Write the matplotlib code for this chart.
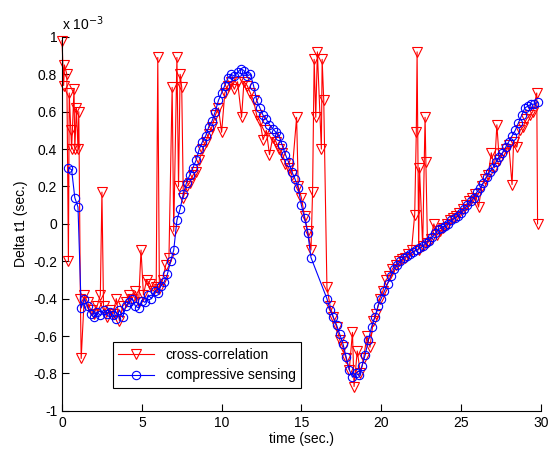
import matplotlib.pyplot as plt

plt.rcParams['font.family'] = ['Liberation Sans', 'DejaVu Sans']

# compressive sensing estimate (units of 1e-3 s)
t_cs = [0.4, 0.6, 0.8, 1.0, 1.2, 1.4, 1.6, 1.8, 2.0, 2.2, 2.4, 2.6, 2.8, 3.0, 3.2, 3.4, 3.6, 3.8,
        4.0, 4.2, 4.4, 4.6, 4.8, 5.0, 5.2, 5.4, 5.6, 5.8, 6.0, 6.2, 6.4, 6.6, 6.8, 7.0, 7.2, 7.4,
        7.6, 7.8, 8.0, 8.2, 8.4, 8.6, 8.8, 9.0, 9.2, 9.4, 9.6, 9.8, 10.0, 10.2, 10.4, 10.6, 10.8,
        11.0, 11.2, 11.4, 11.6, 11.8, 12.0, 12.2, 12.4, 12.6, 12.8, 13.0, 13.2, 13.4, 13.6, 13.8,
        14.0, 14.2, 14.4, 14.6, 14.8, 15.0, 15.2, 15.4, 15.6, 16.6, 16.8, 17.0, 17.2, 17.4, 17.6,
        17.8, 18.0, 18.2, 18.4, 18.6, 18.8, 19.0, 19.2, 19.4, 19.6, 19.8, 20.0, 20.2, 20.4, 20.6,
        20.8, 21.0, 21.2, 21.4, 21.6, 21.8, 22.0, 22.2, 22.4, 22.6, 22.8, 23.0, 23.2, 23.4, 23.6,
        23.8, 24.0, 24.2, 24.4, 24.6, 24.8, 25.0, 25.2, 25.4, 25.6, 25.8, 26.0, 26.2, 26.4, 26.6,
        26.8, 27.0, 27.2, 27.4, 27.6, 27.8, 28.0, 28.2, 28.4, 28.6, 28.8, 29.0, 29.2, 29.4, 29.6,
        29.8]
cs = [0.30, 0.29, 0.14, 0.09, -0.45, -0.40, -0.44, -0.48, -0.50, -0.47, -0.49, -0.46, -0.48,
      -0.47, -0.49, -0.51, -0.46, -0.50, -0.44, -0.42, -0.40, -0.44, -0.45, -0.41, -0.42, -0.38,
      -0.40, -0.36, -0.37, -0.33, -0.31, -0.27, -0.20, -0.14, 0.02, 0.08, 0.16, 0.22, 0.26, 0.30,
      0.34, 0.40, 0.44, 0.47, 0.52, 0.55, 0.60, 0.66, 0.70, 0.74, 0.78, 0.80, 0.79, 0.81, 0.83,
      0.82, 0.79, 0.80, 0.74, 0.66, 0.62, 0.58, 0.56, 0.53, 0.51, 0.49, 0.47, 0.42, 0.37, 0.33,
      0.28, 0.24, 0.19, 0.10, 0.03, -0.05, -0.18, -0.40, -0.46, -0.50, -0.54, -0.59, -0.64,
      -0.71, -0.78, -0.82, -0.80, -0.81, -0.76, -0.70, -0.62, -0.55, -0.50, -0.44, -0.40, -0.36,
      -0.32, -0.28, -0.24, -0.22, -0.20, -0.18, -0.17, -0.16, -0.15, -0.14, -0.13, -0.12,
      -0.10, -0.09, -0.07, -0.05, -0.03, -0.02, -0.01, 0.00, 0.02, 0.03, 0.04, 0.06, 0.08, 0.10,
      0.12, 0.14, 0.17, 0.19, 0.22, 0.25, 0.28, 0.30, 0.33, 0.36, 0.38, 0.41, 0.44, 0.47, 0.50,
      0.54, 0.58, 0.62, 0.63, 0.64, 0.64, 0.65]

# cross-correlation estimate (units of 1e-3 s)
t_xc = [0.0, 0.1, 0.15, 0.3, 0.4, 0.45, 0.55, 0.6, 0.75, 0.8, 0.9, 1.0, 1.05, 1.15, 1.2, 1.4,
        1.6, 1.8, 2.0, 2.2, 2.4, 2.5, 2.6, 2.8, 3.0, 3.2, 3.4, 3.6, 3.8, 4.0, 4.2, 4.4, 4.6, 4.8,
        4.95, 5.1, 5.3, 5.5, 5.7, 5.9, 6.0, 6.1, 6.3, 6.5, 6.7, 6.9, 7.0, 7.2, 7.3, 7.4, 7.5, 7.6,
        7.8, 8.0, 8.2, 8.4, 8.6, 8.8, 9.0, 9.2, 9.4, 9.6, 9.8, 10.0, 10.2, 10.4, 10.6, 10.8, 11.0,
        11.25, 11.4, 11.6, 11.8, 12.0, 12.2, 12.4, 12.6, 12.8, 13.0, 13.2, 13.4, 13.6, 13.8, 14.0,
        14.2, 14.4, 14.7, 14.8, 15.0, 15.2, 15.4, 15.6, 15.7, 15.8, 15.9, 16.0, 16.25, 16.3, 16.4,
        16.6, 16.8, 17.0, 17.2, 17.4, 17.6, 17.8, 18.0, 18.2, 18.3, 18.5, 18.7, 18.9, 19.1, 19.3,
        19.5, 19.7, 19.9, 20.1, 20.3, 20.5, 20.7, 20.9, 21.1, 21.3, 21.5, 21.7, 21.9, 22.1, 22.2,
        22.25, 22.35, 22.4, 22.6, 22.75, 22.8, 22.9, 23.1, 23.3, 23.5, 23.7, 23.9, 24.1, 24.3,
        24.5, 24.7, 24.9, 25.1, 25.3, 25.5, 25.7, 25.9, 26.1, 26.3, 26.5, 26.7, 26.9, 27.1, 27.25,
        27.4, 27.6, 27.8, 28.0, 28.2, 28.3, 28.5, 28.7, 28.9, 29.1, 29.3, 29.5, 29.75, 29.8]
xc = [0.98, 0.74, 0.85, 0.80, -0.20, 0.70, 0.50, 0.40, 0.72, 0.40, 0.62, 0.40, 0.60, -0.40,
      -0.72, -0.38, -0.42, -0.46, -0.48, -0.44, -0.38, 0.17, -0.44, -0.50, -0.46, -0.48, -0.40,
      -0.52, -0.44, -0.42, -0.38, -0.40, -0.36, -0.42, -0.14, -0.38, -0.30, -0.32, -0.36, -0.34,
      0.89, -0.35, -0.30, -0.22, -0.18, 0.73, -0.04, 0.89, 0.20, 0.80, 0.73, 0.14, 0.20, 0.22,
      0.26, 0.28, 0.34, 0.40, 0.44, 0.48, 0.52, 0.58, 0.62, 0.49, 0.70, 0.74, 0.76, 0.72, 0.76,
      0.57, 0.76, 0.74, 0.70, 0.66, 0.58, 0.55, 0.45, 0.50, 0.37, 0.46, 0.44, 0.40, 0.38, 0.32,
      0.30, 0.26, 0.57, 0.20, 0.14, 0.04, -0.04, -0.14, 0.17, 0.88, 0.57, 0.92, 0.40, 0.88, 0.66,
      -0.34, -0.44, -0.50, -0.55, -0.62, -0.66, -0.72, -0.78, -0.58, -0.87, -0.68, -0.80, -0.72,
      -0.60, -0.66, -0.52, -0.48, -0.40, -0.36, -0.30, -0.28, -0.24, -0.22, -0.20, -0.19, -0.18,
      -0.16, -0.14, 0.05, 0.49, 0.92, -0.14, 0.30, -0.12, 0.57, 0.33, -0.10, -0.08, 0.00, -0.06,
      -0.04, -0.02, 0.00, 0.02, 0.03, 0.04, 0.06, 0.08, 0.10, 0.12, 0.14, 0.16, 0.09, 0.20, 0.24,
      0.26, 0.38, 0.30, 0.53, 0.34, 0.38, 0.40, 0.42, 0.21, 0.44, 0.41, 0.50, 0.52, 0.56, 0.58,
      0.60, 0.70, 0.00]

fig = plt.figure(figsize=(5.49, 4.50), dpi=100)
ax = fig.add_axes([0.113, 0.087, 0.872, 0.831])

ax.plot(t_xc, xc, color='#ff0000', marker='v', markersize=7, markerfacecolor='none',
        markeredgewidth=0.8, linewidth=0.8, label='cross-correlation', clip_on=False)
ax.plot(t_cs, cs, color='#0000ff', marker='o', markersize=6, markerfacecolor='none',
        markeredgewidth=0.8, linewidth=0.8, label='compressive sensing', clip_on=False)

ax.set_xlim(0, 30)
ax.set_ylim(-1, 1)
ax.set_xticks([0, 5, 10, 15, 20, 25, 30])
ax.set_yticks([-1, -0.8, -0.6, -0.4, -0.2, 0, 0.2, 0.4, 0.6, 0.8, 1])
ax.set_yticklabels(['-1', '-0.8', '-0.6', '-0.4', '-0.2', '0', '0.2', '0.4', '0.6', '0.8', '1'])
ax.spines['top'].set_visible(False)
ax.spines['right'].set_visible(False)
ax.tick_params(direction='in', length=5, labelsize=10)
ax.set_xlabel('time (sec.)', fontsize=10, labelpad=2)
ax.set_ylabel('Delta t1 (sec.)', fontsize=10, labelpad=4)
ax.text(0.0, 1.01, r'x 10$^{-3}$', transform=ax.transAxes, fontsize=10, va='bottom')

leg = ax.legend(loc='lower left', bbox_to_anchor=(0.106, 0.061), fancybox=False,
                edgecolor='black', framealpha=1, borderaxespad=0, fontsize=10,
                handlelength=2.6)
leg.get_frame().set_linewidth(0.8)

fig.savefig('out.png', dpi=100)
